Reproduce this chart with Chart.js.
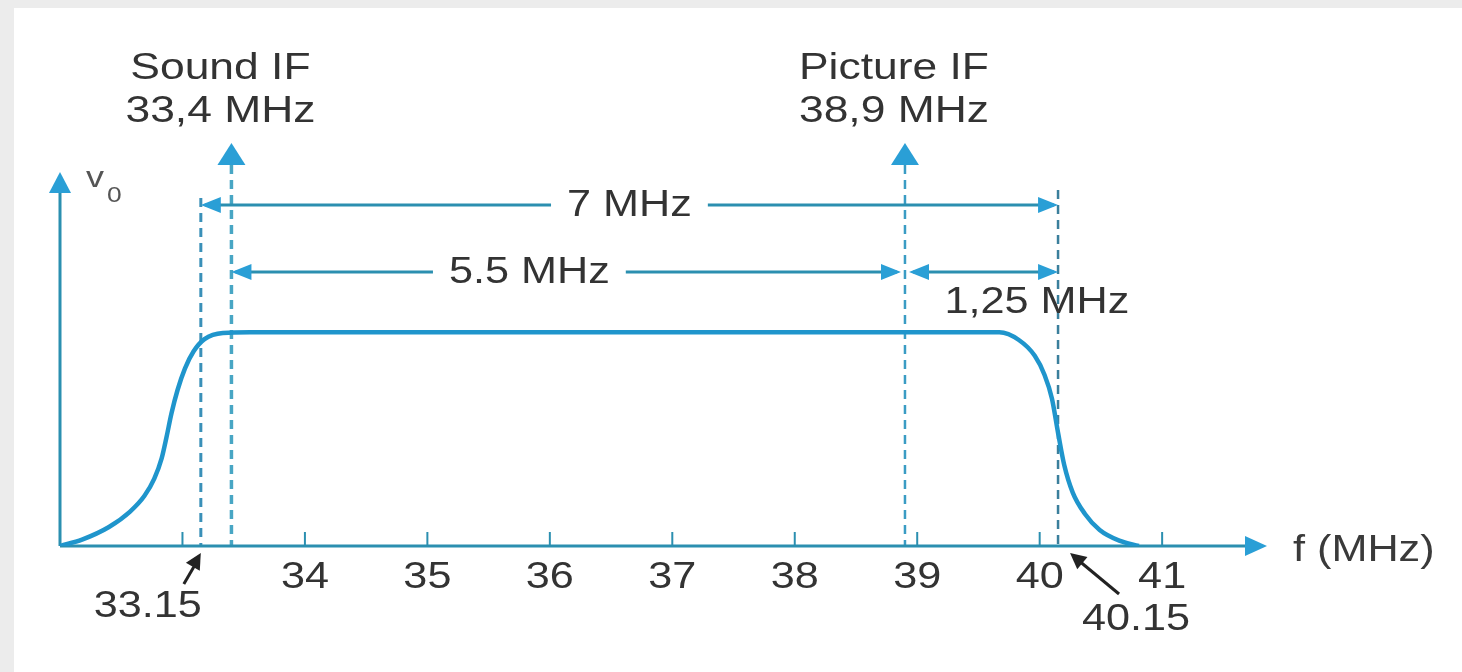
<!DOCTYPE html>
<html>
<head>
<meta charset="utf-8">
<title>IF response</title>
<script src="https://cdn.jsdelivr.net/npm/chart.js@4.4.1/dist/chart.umd.min.js"></script>
<style>
    html, body { margin: 0; padding: 0; background: #fff; }
    #wrap { width: 1462px; height: 672px; }
</style>
</head>
<body>
<div id="wrap"><canvas id="ifChart" width="1462" height="672"></canvas></div>
<script>
// response curve
var freqs = [32.0, 32.18, 32.4, 32.57, 32.69, 32.77, 32.83, 32.87, 32.91, 32.96, 33.02, 33.09, 33.18, 33.33, 33.55, 34, 35, 36, 37, 38, 39, 39.67, 39.83, 39.96, 40.04, 40.1, 40.15, 40.2, 40.27, 40.37, 40.49, 40.65, 40.81];
var response = [0, 0.03, 0.089, 0.16, 0.235, 0.315, 0.41, 0.51, 0.62, 0.73, 0.83, 0.91, 0.968, 0.997, 1, 1, 1, 1, 1, 1, 1, 1, 0.964, 0.89, 0.8, 0.69, 0.53, 0.38, 0.25, 0.15, 0.075, 0.025, 0];

var tickValues = [33, 34, 35, 36, 37, 38, 39, 40, 41];
var tickLabels = ['', '34', '35', '36', '37', '38', '39', '40', '41'];

var carrierFreqs = [33.4, 38.9];
var carrierNames = ['Sound IF', 'Picture IF'];
var carrierLabels = ['33,4 MHz', '38,9 MHz'];

var edgeFreqs = [33.15, 40.15];
var edgeLabels = ['33.15', '40.15'];

var spanStarts = [33.15, 33.4, 38.9];
var spanEnds = [40.15, 38.9, 40.15];
var spanLabels = ['7 MHz', '5.5 MHz', '1,25 MHz'];

var axisLabelX = 'f (MHz)';
var axisLabelY = 'v';
var axisLabelYSub = '0';

var BLUE = '#2a9fd6';
var LINE = '#2b8fb0';
var TEXT = '#333333';
var FONT = '"Liberation Sans", Arial, sans-serif';

// text in the picture is a bit wide, so stretch it horizontally
function stretchText(ctx, text, x, y, size, align, baseline, color) {
    ctx.save();
    ctx.font = size + 'px ' + FONT;
    ctx.fillStyle = color || TEXT;
    ctx.textAlign = align || 'center';
    ctx.textBaseline = baseline || 'middle';
    ctx.translate(x, y);
    ctx.scale(1.2, 1);
    ctx.fillText(text, 0, 0);
    ctx.restore();
}

function textWidth(ctx, text, size) {
    ctx.save();
    ctx.font = size + 'px ' + FONT;
    var w = ctx.measureText(text).width * 1.2;
    ctx.restore();
    return w;
}

function triangle(ctx, tipX, tipY, dir, len, half, color) {
    ctx.save();
    ctx.fillStyle = color || BLUE;
    ctx.beginPath();
    ctx.moveTo(tipX, tipY);
    if (dir === 'up') {
        ctx.lineTo(tipX - half, tipY + len);
        ctx.lineTo(tipX + half, tipY + len);
    } else if (dir === 'left') {
        ctx.lineTo(tipX + len, tipY - half);
        ctx.lineTo(tipX + len, tipY + half);
    } else if (dir === 'right') {
        ctx.lineTo(tipX - len, tipY - half);
        ctx.lineTo(tipX - len, tipY + half);
    } else {
        // free direction given as angle in radians
        var a = dir;
        ctx.lineTo(tipX - len * Math.cos(a) + half * Math.sin(a), tipY - len * Math.sin(a) - half * Math.cos(a));
        ctx.lineTo(tipX - len * Math.cos(a) - half * Math.sin(a), tipY - len * Math.sin(a) + half * Math.cos(a));
    }
    ctx.closePath();
    ctx.fill();
    ctx.restore();
}

function segment(ctx, x1, y1, x2, y2, color, width, dash) {
    ctx.save();
    ctx.strokeStyle = color;
    ctx.lineWidth = width;
    ctx.setLineDash(dash || []);
    ctx.beginPath();
    ctx.moveTo(x1, y1);
    ctx.lineTo(x2, y2);
    ctx.stroke();
    ctx.restore();
}

var diagramPlugin = {
    id: 'diagram',
    beforeDraw: function (chart) {
        var ctx = chart.ctx;
        ctx.save();
        ctx.fillStyle = '#ececec';
        ctx.fillRect(0, 0, chart.width, chart.height);
        ctx.fillStyle = '#ffffff';
        ctx.fillRect(14, 8, chart.width - 14, chart.height - 8);
        ctx.restore();
    },
    beforeDatasetsDraw: function (chart) {
        var ctx = chart.ctx;
        var xs = chart.scales.x;
        var ys = chart.scales.y;
        var area = chart.chartArea;
        var base = ys.getPixelForValue(0);

        // dashed marker lines
        var tops = [1.629, 1.783, 1.783, 1.666];
        var marks = [edgeFreqs[0], carrierFreqs[0], carrierFreqs[1], edgeFreqs[1]];
        var widths = [3, 3.5, 2.5, 2.5];
        var colors = ['#3a90b8', '#48a6c4', '#3a9cc4', '#3a7f9c'];
        marks.forEach(function (f, i) {
            var px = xs.getPixelForValue(f);
            segment(ctx, px, ys.getPixelForValue(tops[i]), px, base, colors[i], widths[i], [9, 6]);
        });

        // axes
        segment(ctx, area.left, base, area.right - 18, base, LINE, 3);
        triangle(ctx, area.right + 2, base, 'right', 22, 10, BLUE);
        segment(ctx, area.left, base, area.left, ys.getPixelForValue(1.7), LINE, 3);
        triangle(ctx, area.left, ys.getPixelForValue(1.75), 'up', 21, 11, BLUE);

        tickValues.forEach(function (t) {
            var px = xs.getPixelForValue(t);
            segment(ctx, px, base, px, base - 14, LINE, 2);
        });
    },
    afterDraw: function (chart) {
        var ctx = chart.ctx;
        var xs = chart.scales.x;
        var ys = chart.scales.y;
        var area = chart.chartArea;
        var base = ys.getPixelForValue(0);

        // carrier arrows and headings
        carrierFreqs.forEach(function (f, i) {
            var px = xs.getPixelForValue(f);
            triangle(ctx, px, ys.getPixelForValue(1.886), 'up', 22, 14, BLUE);
            stretchText(ctx, carrierNames[i], px - 11, 79, 37, 'center', 'alphabetic');
            stretchText(ctx, carrierLabels[i], px - 11, 122, 37, 'center', 'alphabetic');
        });

        // span dimension lines
        var levels = [1.596, 1.282, 1.282];
        var labelPos = [0.5, 0.445, null];
        spanLabels.forEach(function (lab, i) {
            var x1 = xs.getPixelForValue(spanStarts[i]);
            var x2 = xs.getPixelForValue(spanEnds[i]);
            var y = ys.getPixelForValue(levels[i]);
            if (i === 1) x2 -= 4;
            if (i === 2) x1 += 4;
            if (labelPos[i] !== null) {
                var cx = x1 + (x2 - x1) * labelPos[i];
                var w = textWidth(ctx, lab, 36);
                segment(ctx, x1 + 4, y, cx - w / 2 - 16, y, LINE, 3);
                segment(ctx, cx + w / 2 + 16, y, x2 - 4, y, LINE, 3);
                stretchText(ctx, lab, cx, y + 1, 36);
            } else {
                segment(ctx, x1 + 4, y, x2 - 4, y, LINE, 3);
                stretchText(ctx, lab, x1 + 128, ys.getPixelForValue(1.137), 36);
            }
            triangle(ctx, x1, y, 'left', 20, 8, BLUE);
            triangle(ctx, x2, y, 'right', 20, 8, BLUE);
        });

        // tick labels
        tickValues.forEach(function (t, i) {
            if (tickLabels[i] !== '') {
                stretchText(ctx, tickLabels[i], xs.getPixelForValue(t), base + 32, 36);
            }
        });

        // band edge call-outs
        var e1 = xs.getPixelForValue(edgeFreqs[0]);
        segment(ctx, e1 - 17, base + 38, e1 - 3, base + 14, '#222', 3);
        triangle(ctx, e1, base + 7, -Math.PI / 3, 16, 8, '#222');
        stretchText(ctx, edgeLabels[0], e1 - 53, base + 61, 36);

        var e2 = xs.getPixelForValue(edgeFreqs[1]);
        segment(ctx, e2 + 61, base + 48, e2 + 20, base + 14, '#222', 3);
        triangle(ctx, e2 + 12, base + 7, -Math.PI + Math.atan2(34, 41), 16, 8, '#222');
        stretchText(ctx, edgeLabels[1], e2 + 78, base + 74, 36);

        // axis names
        stretchText(ctx, axisLabelX, area.right + 28, base + 5, 36, 'left', 'middle', '#3a3a3a');
        stretchText(ctx, axisLabelY, area.left + 26, ys.getPixelForValue(1.75) + 15, 30, 'left', 'alphabetic', '#555');
        stretchText(ctx, axisLabelYSub, area.left + 47, ys.getPixelForValue(1.75) + 30, 22, 'left', 'alphabetic', '#555');
    }
};

var ctx = document.getElementById('ifChart');
ctx.chart = new Chart(ctx.getContext('2d'), {
    type: 'line',
    data: {
        datasets: [{
            label: 'v0',
            data: freqs.map(function (f, i) { return { x: f, y: response[i] }; }),
            borderColor: '#1f95cc',
            borderWidth: 4.5,
            pointRadius: 0,
            fill: false,
            cubicInterpolationMode: 'monotone'
        }]
    },
    options: {
        responsive: false,
        animation: false,
        layout: { padding: { left: 60, right: 197, top: 140, bottom: 126 } },
        scales: {
            x: { type: 'linear', min: 32, max: 41.84, display: false },
            y: { min: 0, max: 1.9, display: false }
        },
        plugins: {
            legend: { display: false },
            tooltip: { enabled: false }
        }
    },
    plugins: [diagramPlugin]
});
</script>
</body>
</html>
